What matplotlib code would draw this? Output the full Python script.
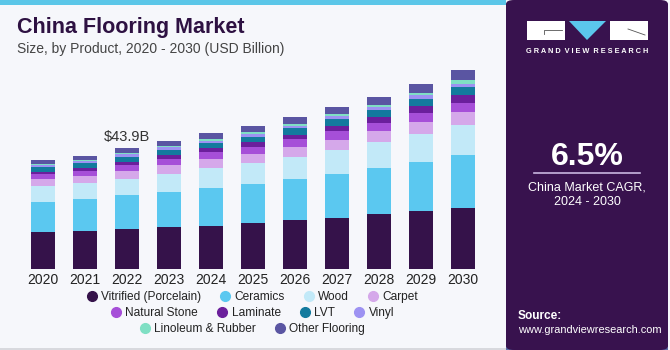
import matplotlib
matplotlib.use("Agg")
import matplotlib.pyplot as plt
from matplotlib.patches import Rectangle, Polygon, FancyBboxPatch
from matplotlib.lines import Line2D
import numpy as np

# data (USD Billion)
years = ["2020", "2021", "2022", "2023", "2024", "2025", "2026", "2027", "2028", "2029", "2030"]
vitrified = [13.3, 13.9, 14.5, 15.4, 15.7, 16.8, 17.7, 18.7, 20.1, 21.2, 22.2]
ceramics = [11.1, 11.4, 12.3, 12.5, 13.9, 14.2, 15.0, 16.0, 16.6, 17.8, 19.3]
wood = [5.7, 6.0, 5.9, 6.8, 7.0, 7.4, 8.0, 8.6, 9.5, 10.1, 10.8]
carpet = [2.5, 2.6, 3.0, 3.1, 3.3, 3.5, 3.6, 3.7, 4.0, 4.4, 4.8]
natural_stone = [1.9, 1.9, 2.1, 2.2, 2.5, 2.6, 2.8, 3.1, 3.0, 3.2, 3.3]
laminate = [0.7, 0.8, 1.2, 1.3, 1.6, 1.6, 1.8, 1.9, 2.1, 2.4, 2.8]
lvt = [1.9, 1.9, 1.8, 1.9, 1.7, 2.0, 2.2, 2.5, 2.6, 2.8, 3.0]
vinyl = [0.8, 0.8, 1.0, 1.0, 1.0, 1.0, 1.0, 1.0, 1.1, 1.2, 1.2]
linoleum = [0.4, 0.4, 0.5, 0.5, 0.5, 0.6, 0.6, 0.7, 0.8, 0.9, 1.2]
other = [1.3, 1.4, 1.6, 1.7, 2.2, 2.4, 2.6, 2.7, 2.9, 3.2, 3.6]

series = [
    ("Vitrified (Porcelain)", vitrified, "#35124a"),
    ("Ceramics", ceramics, "#5bc8f0"),
    ("Wood", wood, "#c2e9f8"),
    ("Carpet", carpet, "#d5a8ea"),
    ("Natural Stone", natural_stone, "#a64fd8"),
    ("Laminate", laminate, "#6b1f9c"),
    ("LVT", lvt, "#137a9e"),
    ("Vinyl", vinyl, "#9d92f2"),
    ("Linoleum & Rubber", linoleum, "#7fdfc4"),
    ("Other Flooring", other, "#5a55a2"),
]
label_year = "2022"
label_text = "$43.9B"

font = "Liberation Sans"
W, H = 670, 350
fig = plt.figure(figsize=(6.7, 3.5), dpi=100)
fig.patch.set_facecolor("#f6f7fb")


def fx(px):
    return px / W


def fy(py):
    return 1 - py / H


# card decorations
fig.add_artist(Rectangle((0, fy(5)), fx(506), 5 / H, transform=fig.transFigure,
                         color="#5bc6e8", lw=0))
fig.add_artist(Rectangle((0, 0), fx(506), 2 / H, transform=fig.transFigure,
                         color="#d8d9de", lw=0))

# chart
ax = fig.add_axes([fx(22), fy(269), fx(462), 209 / H])
ax.set_facecolor("none")
x = np.arange(len(years))
bottom = np.zeros(len(years))
for name, vals, col in series:
    ax.bar(x, vals, 0.57, bottom=bottom, color=col, label=name, lw=0)
    bottom += np.array(vals)
ax.set_xlim(-0.5, len(years) - 0.5)
ax.set_ylim(0, 76.0)
ax.set_xticks(x)
ax.set_xticklabels(years, fontsize=10, color="#222222", family=font)
ax.tick_params(axis="x", length=0, pad=3)
ax.set_yticks([])
for s in ax.spines.values():
    s.set_visible(False)
i = years.index(label_year)
ax.text(x[i], bottom[i] + 1.6, label_text, ha="center", va="bottom",
        fontsize=10.5, color="#333333", family=font)

# titles
fig.text(fx(17), fy(28), "China Flooring Market", fontsize=15.5, fontweight="bold",
         color="#2e1142", family=font, va="center")
fig.text(fx(17), fy(49), "Size, by Product, 2020 - 2030 (USD Billion)", fontsize=10,
         color="#444444", family=font, va="center")

# legend in three rows
handles = [Line2D([], [], marker="o", ls="", markersize=7, markerfacecolor=c,
                  markeredgecolor=c, label=n) for n, _, c in series]
rows = [(handles[0:4], 4, 297), (handles[4:8], 4, 313), (handles[8:10], 2, 329)]
for hs, nc, yy in rows:
    lg = fig.legend(handles=hs, ncol=nc, loc="center", bbox_to_anchor=(fx(252), fy(yy)),
                    frameon=False, prop={"family": font, "size": 8.6},
                    handletextpad=0.3, columnspacing=1.5, handlelength=1.0,
                    borderpad=0, borderaxespad=0)
    for t in lg.get_texts():
        t.set_color("#222222")

# right panel
fig.add_artist(FancyBboxPatch((fx(506), 0), fx(162), 1.0, transform=fig.transFigure,
                              boxstyle="round,pad=0,rounding_size=0.012",
                              color="#38124e", lw=0))
grad = np.linspace(0, 1, 60).reshape(-1, 1)
pax = fig.add_axes([fx(506), 0, fx(162), fy(283)])
pax.imshow(grad, aspect="auto", cmap=matplotlib.colors.LinearSegmentedColormap.from_list(
    "g", ["#38124e", "#4a3a7a", "#5a6ca6"]), origin="upper", extent=[0, 1, 0, 1])
for k in np.linspace(0, 1, 14):
    pax.plot([k, 0.5 + (k - 0.5) * 2.2], [1, 0], color="#8fa8d8", lw=0.4, alpha=0.35)
for k in [0.25, 0.45, 0.62, 0.76, 0.87, 0.95]:
    pax.axhline(1 - k, color="#8fa8d8", lw=0.4, alpha=0.35)
pax.set_xlim(0, 1)
pax.set_ylim(0, 1)
pax.axis("off")

# logo
fig.add_artist(Rectangle((fx(527), fy(40)), fx(38), 19 / H, transform=fig.transFigure,
                         color="white", lw=0))
fig.add_artist(Rectangle((fx(610), fy(40)), fx(38), 19 / H, transform=fig.transFigure,
                         color="white", lw=0))
fig.add_artist(Polygon([(fx(569), fy(21)), (fx(606), fy(21)), (fx(587), fy(40))],
                       closed=True, transform=fig.transFigure, color="#5bc6ec", lw=0))
fig.add_artist(Line2D([fx(544), fx(544), fx(562)], [fy(34), fy(30), fy(30)],
                      transform=fig.transFigure, color="#555555", lw=0.6))
fig.add_artist(Line2D([fx(628), fx(645)], [fy(29), fy(35)],
                      transform=fig.transFigure, color="#555555", lw=0.6))
fig.text(fx(587.5), fy(51.5), "G R A N D  V I E W  R E S E A R C H",
         fontsize=5.3, fontweight="bold", color="white", ha="center", va="center",
         family=font)

fig.text(fx(587), fy(157), "6.5%", fontsize=23, fontweight="bold", color="white",
         ha="center", va="center", family=font)
fig.add_artist(Line2D([fx(534), fx(640)], [fy(173), fy(173)], transform=fig.transFigure,
                      color="#c9b6e0", lw=1.2))
fig.text(fx(587), fy(187), "China Market CAGR,", fontsize=9, color="white",
         ha="center", va="center", family=font)
fig.text(fx(587), fy(202), "2024 - 2030", fontsize=9, color="white",
         ha="center", va="center", family=font)
fig.text(fx(518), fy(316), "Source:", fontsize=8.6, fontweight="bold", color="white",
         va="center", family=font)
fig.text(fx(518), fy(330), "www.grandviewresearch.com", fontsize=7.9, color="white",
         va="center", family=font)

fig.savefig("out.png", dpi=100, facecolor=fig.get_facecolor())
